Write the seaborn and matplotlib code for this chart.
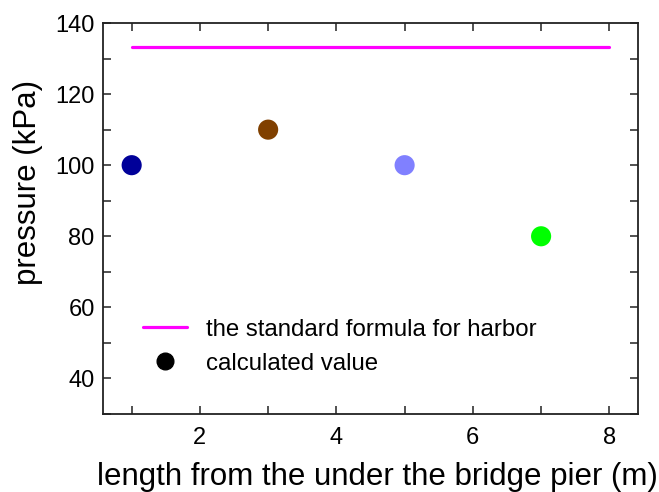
import matplotlib
matplotlib.use("Agg")
import matplotlib.pyplot as plt
import seaborn as sns
import pandas as pd
from matplotlib.ticker import MultipleLocator
from matplotlib.lines import Line2D

sns.set_theme(style="ticks")
plt.rcParams['font.family'] = ['Liberation Sans', 'DejaVu Sans']
plt.rcParams['text.color'] = 'black'
plt.rcParams['axes.labelcolor'] = 'black'
plt.rcParams['xtick.color'] = 'black'
plt.rcParams['ytick.color'] = 'black'

x_calc = [1, 3, 5, 7]
y_calc = [100, 110, 100, 80]
point_colors = ["#000099", "#804000", "#8080FF", "#00FF00"]
x_std = [1, 8]
y_std = [133.3, 133.3]
std_label = "the standard formula for harbor"
calc_label = "calculated value"

df_calc = pd.DataFrame({"x": x_calc, "y": y_calc, "c": [str(i) for i in range(len(x_calc))]})
df_std = pd.DataFrame({"x": x_std, "y": y_std})

fig = plt.figure(figsize=(6.59, 4.92), dpi=100)
ax = fig.add_axes([103/659, 1-414/492, (638-103)/659, (414-23)/492])

sns.lineplot(data=df_std, x="x", y="y", ax=ax, color="#FF00FF", linewidth=2.3, legend=False)
sns.scatterplot(data=df_calc, x="x", y="y", hue="c", palette=point_colors, s=210,
                edgecolor="none", ax=ax, legend=False)

ax.set_xlim(0.58, 8.42)
ax.set_ylim(30, 140)
ax.xaxis.set_major_locator(MultipleLocator(2))
ax.xaxis.set_minor_locator(MultipleLocator(1))
ax.yaxis.set_major_locator(MultipleLocator(20))
ax.yaxis.set_minor_locator(MultipleLocator(10))
ax.set_yticks([40, 60, 80, 100, 120, 140])
for which in ("major", "minor"):
    ax.tick_params(axis="both", which=which, direction="in", length=6, width=1.1,
                   top=True, right=True, color="#222222")
ax.tick_params(axis="both", which="major", labelsize=17)
ax.tick_params(axis="x", which="major", pad=9)
ax.tick_params(axis="y", which="major", pad=6)
for sp in ax.spines.values():
    sp.set_linewidth(1.3)
    sp.set_color("#222222")

ax.set_xlabel("length from the under the bridge pier (m)", fontsize=22.5)
ax.set_ylabel("pressure (kPa)", fontsize=22.5)
ax.xaxis.set_label_coords(0.513, -0.122)
ax.yaxis.set_label_coords(-0.112, 0.591)

handles = [Line2D([0], [0], color="#FF00FF", lw=2.3),
           Line2D([0], [0], marker="o", color="black", lw=0, markersize=12)]
ax.legend(handles, [std_label, calc_label], loc="lower left", bbox_to_anchor=(0.075, 0.10),
          borderaxespad=0, borderpad=0,
          frameon=False, fontsize=17.3, handlelength=1.83, handletextpad=0.79, labelspacing=0.5)

fig.savefig("out.png", dpi=100)
